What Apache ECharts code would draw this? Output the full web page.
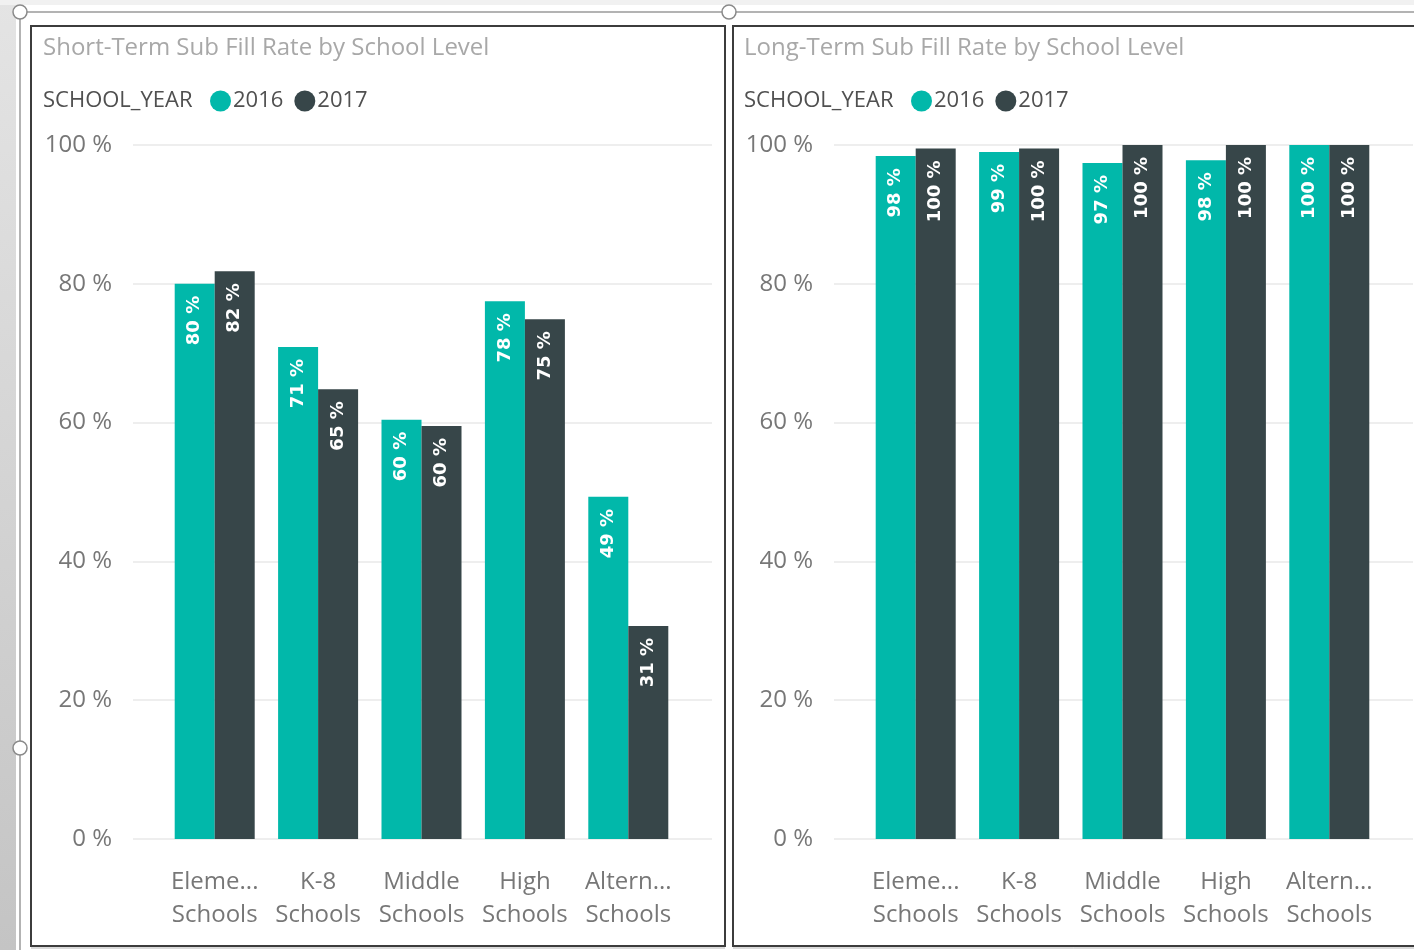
<!DOCTYPE html>
<html>
<head>
<meta charset="utf-8">
<script src="https://cdn.jsdelivr.net/npm/echarts@6/dist/echarts.min.js"></script>
<style>
html,body{margin:0;padding:0;background:#fff;}
#c{width:1414px;height:950px;}
</style>
</head>
<body>
<div id="c"></div>
<script>
const categories = ['Eleme...\nSchools', 'K-8\nSchools', 'Middle\nSchools', 'High\nSchools', 'Altern...\nSchools'];
const seriesNames = ['2016', '2017'];
const shortTerm2016 = [80.0, 70.9, 60.4, 77.5, 49.3];
const shortTerm2017 = [81.8, 64.8, 59.5, 74.9, 30.7];
const longTerm2016 = [98.4, 99.0, 97.4, 97.8, 100];
const longTerm2017 = [99.5, 99.5, 100, 100, 100];
const panelTitles = ['Short-Term Sub Fill Rate by School Level', 'Long-Term Sub Fill Rate by School Level'];
const legendTitle = 'SCHOOL_YEAR';
const yMin = 0, yMax = 100, yStep = 20;

const TEAL = '#01B8AA', DARK = '#374649';
const FONT = '"Open Sans", "Noto Sans", sans-serif';
const chart = echarts.init(document.getElementById('c'));

const PX = [0, 701]; // panel x offsets
const grids = [], xAxes = [], yAxes = [], series = [], titles = [], legends = [];

PX.forEach((dx, p) => {
  grids.push({left: 133 + dx, top: 145, width: 579, height: 694});
  grids.push({left: 163 + dx, top: 145, width: 517, height: 694});
  const gA = p * 2, gB = p * 2 + 1;
  xAxes.push({gridIndex: gA, type: 'category', data: categories, show: false});
  yAxes.push({
    gridIndex: gA, type: 'value', min: yMin, max: yMax, interval: yStep,
    axisLine: {show: false}, axisTick: {show: false},
    splitLine: {lineStyle: {color: '#e9e9e9', width: 1.5}},
    axisLabel: {formatter: '{value} %', color: '#777777', fontSize: 24, fontFamily: FONT, margin: 21}
  });
  xAxes.push({
    gridIndex: gB, type: 'category', data: categories,
    axisLine: {show: false}, axisTick: {show: false},
    axisLabel: {color: '#777777', fontSize: 24, fontFamily: FONT, lineHeight: 33, margin: 27, interval: 0}
  });
  yAxes.push({gridIndex: gB, type: 'value', min: yMin, max: yMax, interval: yStep, show: false, splitLine: {show: false}});
  const d16 = p === 0 ? shortTerm2016 : longTerm2016;
  const d17 = p === 0 ? shortTerm2017 : longTerm2017;
  [d16, d17].forEach((d, i) => {
    series.push({
      name: seriesNames[i], type: 'bar', xAxisIndex: p * 2 + 1, yAxisIndex: p * 2 + 1,
      data: d, barWidth: 40, barGap: '0%',
      itemStyle: {color: i === 0 ? TEAL : DARK},
      label: {
        show: true, position: 'insideTop', rotate: 90, align: 'right', verticalAlign: 'middle',
        distance: 12, color: '#fff', fontWeight: 'bold', fontSize: 18, fontFamily: '"DejaVu Sans", sans-serif',
        formatter: v => Math.round(v.value) + ' %'
      },
      emphasis: {disabled: true}
    });
  });
  titles.push({
    text: panelTitles[p], left: 43 + dx, top: 36, padding: 0,
    textStyle: {color: '#a8a8a8', fontSize: 24, fontWeight: 'normal', fontFamily: FONT}
  });
  titles.push({
    text: legendTitle, left: 43 + dx, top: 90, padding: 0,
    textStyle: {color: '#505050', fontSize: 22, fontWeight: 'normal', fontFamily: FONT}
  });
  legends.push({
    data: seriesNames, left: 210 + dx, top: 90, icon: 'circle', itemWidth: 21, itemHeight: 21,
    itemGap: 11, padding: 0, selectedMode: false,
    textStyle: {color: '#505050', fontSize: 22, fontFamily: FONT, padding: [0, 0, 0, -3]}
  });
});

const graphic = [
  {type: 'rect', shape: {x: 0, y: 0, width: 16, height: 950}, z: -10,
   style: {fill: new echarts.graphic.LinearGradient(0, 0, 1, 1, [{offset: 0, color: '#e4e4e4'}, {offset: 1, color: '#c4c4c4'}])}},
  {type: 'rect', shape: {x: 0, y: 0, width: 1414, height: 5}, z: -10, style: {fill: '#f1f1f1'}},
  {type: 'line', shape: {x1: 20, y1: 12, x2: 20, y2: 950}, style: {stroke: '#9a9a9a', lineWidth: 1.5}},
  {type: 'line', shape: {x1: 20, y1: 12, x2: 1414, y2: 12}, style: {stroke: '#9a9a9a', lineWidth: 1.5}},
  {type: 'rect', shape: {x: 31, y: 26, width: 694, height: 920}, style: {fill: 'none', stroke: '#3c3c3c', lineWidth: 2}},
  {type: 'rect', shape: {x: 733, y: 26, width: 720, height: 920}, style: {fill: 'none', stroke: '#3c3c3c', lineWidth: 2}},
  {type: 'line', shape: {x1: 31, y1: 948, x2: 725, y2: 948}, style: {stroke: '#b5b5b5', lineWidth: 1}},
  {type: 'line', shape: {x1: 733, y1: 948, x2: 1414, y2: 948}, style: {stroke: '#b5b5b5', lineWidth: 1}},
  {type: 'circle', shape: {cx: 20, cy: 12, r: 7}, z: 10, style: {fill: '#fff', stroke: '#8a8a8a', lineWidth: 1.5}},
  {type: 'circle', shape: {cx: 729, cy: 12, r: 7}, z: 10, style: {fill: '#fff', stroke: '#8a8a8a', lineWidth: 1.5}},
  {type: 'circle', shape: {cx: 20, cy: 748, r: 7}, z: 10, style: {fill: '#fff', stroke: '#8a8a8a', lineWidth: 1.5}}
];

chart.setOption({
  animation: false,
  backgroundColor: '#fff',
  title: titles,
  legend: legends,
  grid: grids,
  xAxis: xAxes,
  yAxis: yAxes,
  series: series,
  graphic: graphic
});
</script>
</body>
</html>
